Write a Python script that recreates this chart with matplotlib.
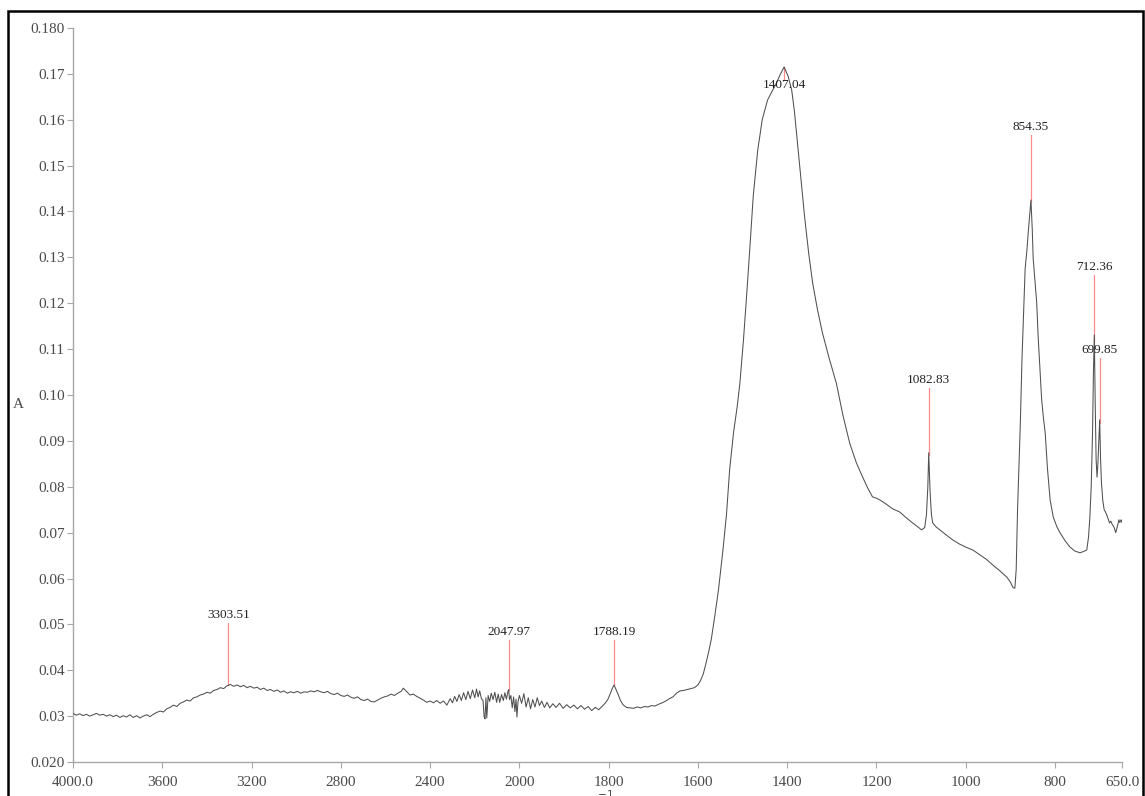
import numpy as np
import matplotlib
matplotlib.use("Agg")
import matplotlib.pyplot as plt
from matplotlib.patches import Rectangle
from matplotlib.ticker import FixedLocator, FixedFormatter

# ---- spectrum (wavenumber cm-1, absorbance) ----
wavenumber = [
    4000, 3985, 3970, 3955, 3940, 3925, 3910, 3895, 3880, 3865, 3850, 3835, 3820, 3805,
    3790, 3775, 3760, 3745, 3730, 3715, 3700, 3685, 3670, 3655, 3640, 3625, 3610, 3595,
    3580, 3565, 3550, 3535, 3520, 3505, 3490, 3475, 3460, 3445, 3430, 3415, 3400, 3385,
    3370, 3355, 3340, 3325, 3310, 3295, 3280, 3265, 3250, 3235, 3220, 3205, 3190, 3175,
    3160, 3145, 3130, 3115, 3100, 3085, 3070, 3055, 3040, 3025, 3010, 2995, 2980, 2965,
    2950, 2935, 2920, 2905, 2890, 2875, 2860, 2845, 2830, 2815, 2800, 2785, 2770, 2755,
    2740, 2725, 2710, 2695, 2680, 2665, 2650, 2635, 2620, 2605, 2590, 2575, 2560, 2545,
    2530, 2520, 2510, 2500, 2490, 2475, 2460, 2445, 2430, 2415, 2400, 2385, 2370, 2355,
    2340, 2325, 2310, 2300, 2290, 2280, 2270, 2260, 2250, 2240, 2230, 2220, 2210, 2200,
    2192, 2185, 2178, 2170, 2163, 2158, 2154, 2150, 2146, 2140, 2133, 2126, 2118, 2110,
    2102, 2095, 2088, 2080, 2072, 2065, 2058, 2052, 2048, 2044, 2038, 2032, 2026, 2020,
    2015, 2011, 2006, 2000, 1995, 1990, 1985, 1980, 1975, 1970, 1965, 1960, 1955, 1950,
    1944, 1938, 1932, 1925, 1918, 1910, 1902, 1894, 1886, 1878, 1870, 1862, 1854, 1846,
    1838, 1830, 1822, 1815, 1808, 1802, 1796, 1792, 1788, 1784, 1779, 1774, 1768, 1760,
    1752, 1744, 1736, 1728, 1720, 1712, 1704, 1696, 1688, 1680, 1672, 1664, 1656, 1648,
    1640, 1632, 1624, 1616, 1608, 1600, 1594, 1588, 1582, 1576, 1570, 1562, 1554, 1544,
    1536, 1529, 1520, 1512, 1506, 1498, 1490, 1484, 1476, 1466, 1456, 1444, 1434, 1424,
    1416, 1407, 1398, 1390, 1384, 1379, 1370, 1361, 1352, 1343, 1332, 1321, 1306, 1290,
    1275, 1260, 1245, 1231, 1220, 1209, 1200, 1192, 1178, 1164, 1148, 1134, 1119, 1108,
    1099, 1092, 1088, 1085, 1083, 1080, 1077, 1074, 1066, 1058, 1044, 1029, 1014, 999,
    984, 969, 954, 939, 924, 908, 900, 894, 890, 887, 884, 881, 878, 874,
    870, 867, 863, 860, 857, 854, 851, 849, 845, 841, 838, 834, 830, 826,
    822, 817, 811, 804, 796, 789, 778, 767, 756, 744, 736, 729, 725, 722,
    719, 716, 714, 712, 710, 708, 706, 704, 702, 700, 698, 696, 693, 690,
    687, 684, 681, 678, 675, 672, 668, 664, 660, 657, 655, 652, 650,
]
absorbance = [
    0.0306, 0.0302, 0.0305, 0.0301, 0.0304, 0.0300, 0.0303, 0.0306, 0.0302, 0.0304, 0.0300, 0.0303, 0.0299, 0.0302,
    0.0297, 0.0301, 0.0298, 0.0303, 0.0297, 0.0301, 0.0296, 0.0300, 0.0303, 0.0299, 0.0304, 0.0308, 0.0311, 0.0309,
    0.0316, 0.0319, 0.0324, 0.0321, 0.0328, 0.0331, 0.0335, 0.0333, 0.0340, 0.0342, 0.0346, 0.0348, 0.0352, 0.0350,
    0.0356, 0.0358, 0.0362, 0.0360, 0.0366, 0.0369, 0.0365, 0.0368, 0.0364, 0.0367, 0.0362, 0.0365, 0.0361, 0.0363,
    0.0358, 0.0361, 0.0356, 0.0358, 0.0354, 0.0357, 0.0352, 0.0355, 0.0350, 0.0353, 0.0351, 0.0354, 0.0350, 0.0353,
    0.0352, 0.0355, 0.0353, 0.0356, 0.0353, 0.0351, 0.0354, 0.0349, 0.0347, 0.0350, 0.0345, 0.0343, 0.0346, 0.0341,
    0.0339, 0.0342, 0.0336, 0.0334, 0.0337, 0.0332, 0.0331, 0.0335, 0.0339, 0.0342, 0.0344, 0.0348, 0.0345, 0.0350,
    0.0354, 0.0361, 0.0356, 0.0351, 0.0346, 0.0348, 0.0343, 0.0339, 0.0335, 0.0330, 0.0333, 0.0329, 0.0334, 0.0328,
    0.0333, 0.0324, 0.0338, 0.0329, 0.0343, 0.0332, 0.0347, 0.0334, 0.0351, 0.0336, 0.0354, 0.0338, 0.0357, 0.0340,
    0.0359, 0.0342, 0.0355, 0.0338, 0.0334, 0.0299, 0.0294, 0.0340, 0.0296, 0.0345, 0.0332, 0.0350, 0.0336, 0.0352,
    0.0330, 0.0348, 0.0330, 0.0347, 0.0334, 0.0351, 0.0337, 0.0352, 0.0358, 0.0336, 0.0345, 0.0318, 0.0342, 0.0310,
    0.0337, 0.0298, 0.0332, 0.0345, 0.0328, 0.0349, 0.0320, 0.0340, 0.0316, 0.0336, 0.0320, 0.0340, 0.0323, 0.0333,
    0.0319, 0.0330, 0.0318, 0.0327, 0.0319, 0.0328, 0.0317, 0.0325, 0.0318, 0.0324, 0.0316, 0.0323, 0.0315, 0.0321,
    0.0312, 0.0319, 0.0314, 0.0321, 0.0328, 0.0336, 0.0350, 0.0360, 0.0368, 0.0359, 0.0348, 0.0335, 0.0325, 0.0319,
    0.0318, 0.0317, 0.0320, 0.0318, 0.0321, 0.0320, 0.0323, 0.0322, 0.0326, 0.0329, 0.0333, 0.0338, 0.0342, 0.0350,
    0.0355, 0.0356, 0.0358, 0.0360, 0.0362, 0.0368, 0.0378, 0.0392, 0.0415, 0.0440, 0.0468, 0.0520, 0.0575, 0.0662,
    0.0740, 0.0837, 0.0920, 0.0975, 0.1026, 0.1120, 0.1230, 0.1316, 0.1435, 0.1534, 0.1600, 0.1643, 0.1662, 0.1680,
    0.1698, 0.1715, 0.1695, 0.1665, 0.1620, 0.1570, 0.1480, 0.1388, 0.1310, 0.1244, 0.1185, 0.1135, 0.1080, 0.1026,
    0.0955, 0.0895, 0.0852, 0.0821, 0.0798, 0.0778, 0.0775, 0.0771, 0.0762, 0.0752, 0.0745, 0.0733, 0.0721, 0.0713,
    0.0706, 0.0711, 0.0740, 0.0800, 0.0874, 0.0790, 0.0740, 0.0721, 0.0712, 0.0706, 0.0695, 0.0684, 0.0675, 0.0668,
    0.0662, 0.0652, 0.0642, 0.0629, 0.0617, 0.0603, 0.0592, 0.0580, 0.0579, 0.0620, 0.0750, 0.0840, 0.0930, 0.1080,
    0.1190, 0.1275, 0.1316, 0.1355, 0.1390, 0.1425, 0.1360, 0.1298, 0.1250, 0.1200, 0.1130, 0.1062, 0.0990, 0.0950,
    0.0917, 0.0840, 0.0771, 0.0734, 0.0713, 0.0700, 0.0683, 0.0669, 0.0660, 0.0656, 0.0659, 0.0662, 0.0690, 0.0734,
    0.0800, 0.0917, 0.1050, 0.1131, 0.0980, 0.0860, 0.0821, 0.0850, 0.0900, 0.0946, 0.0860, 0.0808, 0.0770, 0.0750,
    0.0745, 0.0738, 0.0730, 0.0721, 0.0725, 0.0718, 0.0712, 0.0700, 0.0715, 0.0728, 0.0722, 0.0728, 0.0722,
]

# ---- labelled peaks ----
peak_positions = [3303.51, 2047.97, 1788.19, 1407.04, 1082.83, 854.35, 712.36, 699.85]
peak_labels = ["3303.51", "2047.97", "1788.19", "1407.04", "1082.83", "854.35", "712.36", "699.85"]
label_heights = [0.0520, 0.0483, 0.0483, 0.1676, 0.1033, 0.1584, 0.1279, 0.1098]

# ---- axis ticks ----
x_ticks = [4000, 3600, 3200, 2800, 2400, 2000, 1800, 1600, 1400, 1200, 1000, 800, 650]
x_tick_labels = ["4000.0", "3600", "3200", "2800", "2400", "2000", "1800", "1600",
                 "1400", "1200", "1000", "800", "650.0"]
y_ticks = [0.020, 0.03, 0.04, 0.05, 0.06, 0.07, 0.08, 0.09, 0.10, 0.11, 0.12,
           0.13, 0.14, 0.15, 0.16, 0.17, 0.180]
y_tick_labels = ["0.020", "0.03", "0.04", "0.05", "0.06", "0.07", "0.08", "0.09", "0.10",
                 "0.11", "0.12", "0.13", "0.14", "0.15", "0.16", "0.17", "0.180"]

SERIF = ["Liberation Serif", "DejaVu Serif"]
AXIS_GREY = "#a8a8a8"
TEXT_GREY = "#4a4a4a"


# x axis is compressed 2:1 above 2000 cm-1
def fwd(x):
    x = np.asarray(x, dtype=float)
    return np.where(x <= 2000, x, 2000 + (x - 2000) / 2.0)


def inv(t):
    t = np.asarray(t, dtype=float)
    return np.where(t <= 2000, t, 2000 + (t - 2000) * 2.0)


W, H = 1145, 796
fig = plt.figure(figsize=(W / 100, H / 100), dpi=100)
ax = fig.add_axes([73 / W, 1 - 762 / H, (1122 - 73) / W, (762 - 28) / H])
ax.set_xscale("function", functions=(fwd, inv))

wn = np.array(wavenumber)
ab = np.array(absorbance)
ax.plot(wn, ab, color="#505050", lw=0.75, zorder=3)

for pos, lab, h in zip(peak_positions, peak_labels, label_heights):
    peak_val = float(np.interp(pos, wn[::-1], ab[::-1]))
    if h > peak_val:
        ax.plot([pos, pos], [peak_val, h - 0.0017], color="#ff8a8a", lw=0.9, zorder=2)
    else:
        ax.plot([pos, pos], [peak_val, h + 0.0012], color="#ff8a8a", lw=0.9, zorder=2)
    ax.text(pos, h, lab, ha="center", va="center", fontsize=9.5,
            family=SERIF, color="#222222", zorder=4)

ax.set_xlim(4000, 650)
ax.set_ylim(0.020, 0.180)
ax.xaxis.set_major_locator(FixedLocator(x_ticks))
ax.xaxis.set_major_formatter(FixedFormatter(x_tick_labels))
ax.xaxis.set_minor_locator(FixedLocator([]))
ax.yaxis.set_major_locator(FixedLocator(y_ticks))
ax.yaxis.set_major_formatter(FixedFormatter(y_tick_labels))

for side in ("top", "right"):
    ax.spines[side].set_visible(False)
for side in ("left", "bottom"):
    ax.spines[side].set_color(AXIS_GREY)
    ax.spines[side].set_linewidth(1.0)

ax.tick_params(axis="both", direction="out", length=4, width=0.8, color=AXIS_GREY,
               labelcolor=TEXT_GREY, labelsize=11)
ax.tick_params(axis="x", pad=6)
ax.tick_params(axis="y", pad=2)
for lbl in ax.get_xticklabels() + ax.get_yticklabels():
    lbl.set_family(SERIF)

fig.text(18 / W, 1 - 405 / H, "A", ha="center", va="center", fontsize=11,
         family=SERIF, color=TEXT_GREY)
fig.text(597 / W, 1 - 789 / H, "cm$^{-1}$", ha="center", va="top", fontsize=11,
         family=SERIF, color=TEXT_GREY)

# outer frame
fig.patches.append(Rectangle((8 / W, -0.05), (1143 - 8) / W, 1 - 11 / H + 0.05,
                             transform=fig.transFigure, fill=False,
                             edgecolor="black", lw=1.8))

fig.savefig("out.png", dpi=100)
